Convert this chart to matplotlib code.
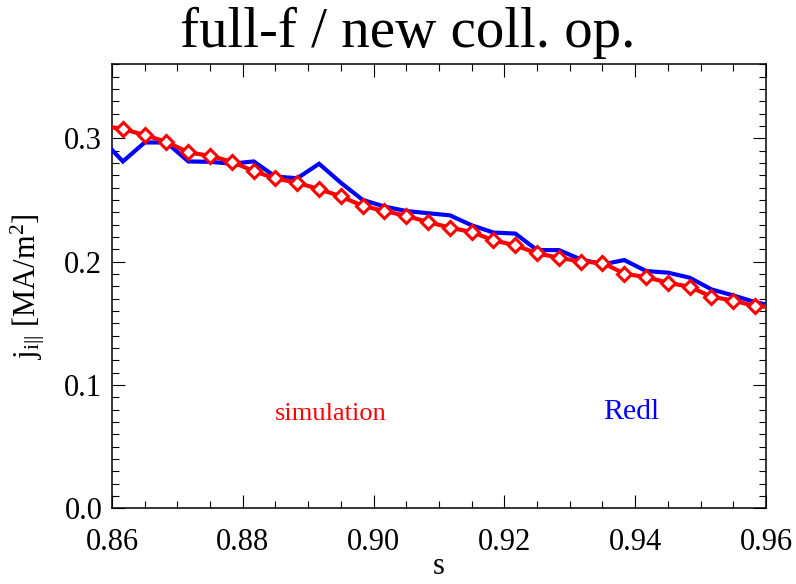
import numpy as np
import matplotlib
matplotlib.use("Agg")
import matplotlib.pyplot as plt
from matplotlib.ticker import MultipleLocator, FormatStrFormatter

plt.rcParams["font.family"] = ["Liberation Serif", "DejaVu Serif"]
plt.rcParams["mathtext.fontset"] = "custom"
plt.rcParams["mathtext.rm"] = "Liberation Serif"
plt.rcParams["mathtext.it"] = "Liberation Serif:italic"

# radial grid (cell centres, spacing 1/300); first and last points lie just outside the window
s = (np.arange(257, 289) + 0.5) / 300.0

j_simulation = [
    0.3104,
    0.3076, 0.3027, 0.2972, 0.2886, 0.2859, 0.2810, 0.2734, 0.2675, 0.2640, 0.2588,
    0.2530, 0.2452, 0.2411, 0.2371, 0.2322, 0.2276, 0.2241, 0.2173, 0.2133, 0.2067,
    0.2033, 0.2000, 0.1992, 0.1902, 0.1875, 0.1829, 0.1797, 0.1715, 0.1685, 0.1639,
    0.1631,
]

j_redl = [
    0.3000,
    0.2813, 0.2967, 0.2967, 0.2813, 0.2810, 0.2795, 0.2813, 0.2690, 0.2677, 0.2794,
    0.2640, 0.2501, 0.2447, 0.2411, 0.2393, 0.2376, 0.2295, 0.2236, 0.2228, 0.2094,
    0.2094, 0.2019, 0.1978, 0.2013, 0.1924, 0.1911, 0.1870, 0.1775, 0.1726, 0.1672,
    0.1634,
]

title = "full-f / new coll. op."
xlabel = "s"
ylabel = r"$\mathrm{j}_{\mathrm{i||}}$ [MA/m$^{\mathrm{2}}$]"

fig = plt.figure(figsize=(7.96, 5.84), dpi=100)
ax = fig.add_axes([0.1407, 0.1297, 0.8216, 0.7600])

ax.plot(s, j_redl, color="#0000ff", lw=3.0, solid_joinstyle="miter", zorder=3)
ax.plot(s, j_simulation, color="#ff0000", lw=3.0, marker="D", markersize=7.5,
        markerfacecolor="white", markeredgecolor="#ff0000", markeredgewidth=2.2,
        zorder=4)

ax.set_xlim(0.86, 0.96)
ax.set_ylim(0.0, 0.36)

ax.xaxis.set_major_locator(MultipleLocator(0.02))
ax.xaxis.set_minor_locator(MultipleLocator(0.005))
ax.yaxis.set_major_locator(MultipleLocator(0.1))
ax.yaxis.set_minor_locator(MultipleLocator(0.01))
ax.xaxis.set_major_formatter(FormatStrFormatter("%.2f"))
ax.yaxis.set_major_formatter(FormatStrFormatter("%.1f"))

ax.tick_params(which="both", direction="in", top=True, right=True, width=0.8,
               color="black", labelsize=22)
ax.tick_params(which="major", length=9.5)
ax.tick_params(which="minor", length=4.7)
ax.tick_params(axis="x", which="major", pad=14)
ax.tick_params(axis="y", which="major", pad=7)

for sp in ax.spines.values():
    sp.set_linewidth(1.1)

fig.canvas.draw()
ylabels = ax.get_yticklabels()
ylabels[0].set_verticalalignment("bottom")

fig.text(0.512, 1 - 47 / 584, title, fontsize=41, ha="center", va="baseline")

ax.set_xlabel(xlabel, fontsize=22)
ax.xaxis.label.set_verticalalignment("baseline")
ax.xaxis.set_label_coords(0.5, -0.149)

ax.set_ylabel(ylabel, fontsize=22)
ax.yaxis.set_label_coords(-0.100, 0.5)

ax.text(0.334, 0.199, "simulation", color="#ff0000", fontsize=19,
        ha="center", va="baseline", transform=ax.transAxes)
ax.text(0.794, 0.201, "Redl", color="#0000ff", fontsize=21.5,
        ha="center", va="baseline", transform=ax.transAxes)

fig.savefig("out.png", dpi=100)
